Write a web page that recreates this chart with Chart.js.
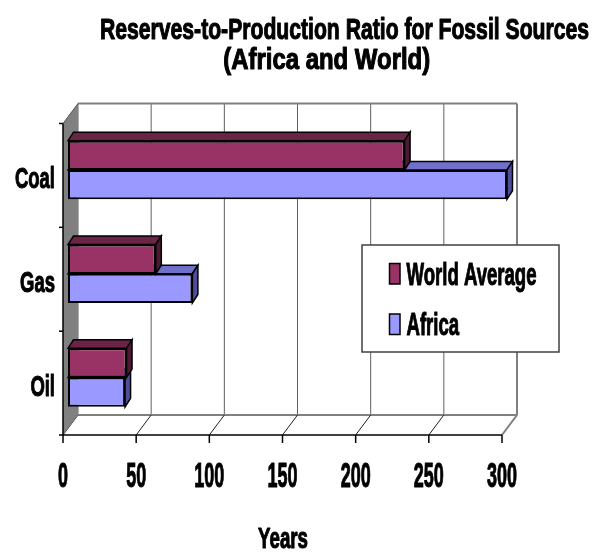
<!DOCTYPE html>
<html>
<head>
<meta charset="utf-8">
<script src="https://cdn.jsdelivr.net/npm/chart.js@4.4.1/dist/chart.umd.min.js"></script>
<style>
  html, body { margin: 0; padding: 0; background: #fff; }
</style>
</head>
<body>
<canvas id="rpChart" width="595" height="553"></canvas>
<script>
var fuels = ['Coal', 'Gas', 'Oil'];
var worldAverage = [230, 60, 40];
var africa = [300, 85, 39];
var yearTicks = [0, 50, 100, 150, 200, 250, 300];
var titleLines = ['Reserves-to-Production Ratio for Fossil Sources', '(Africa and World)'];
var axisTitle = 'Years';
var seriesNames = ['World Average', 'Africa'];

// faux 3d offsets relative to the plane the bars sit on
var FRONT = { dx: -5, dy: 5.5 };
var BACK = { dx: 10, dy: -14.5 };
var DEPTH = { dx: 5.5, dy: -8.5 };

var faceColors = [
  { front: '#993366', top: '#6B2346', side: '#4D1A33' },
  { front: '#9999FF', top: '#7070CC', side: '#4D4D99' }
];

var FONT = '"Liberation Sans", Arial, sans-serif';

function setFont(ctx, size) {
  ctx.font = 'bold ' + size + 'px ' + FONT;
}

// squeeze factor so that str comes out `width` px wide
function squeeze(ctx, str, size, width) {
  setFont(ctx, size);
  return width / ctx.measureText(str).width;
}

// condensed heavy text: squeezed horizontally, with a thin outline to thicken strokes
function narrowText(ctx, str, x, y, size, sx, align) {
  ctx.save();
  setFont(ctx, size);
  ctx.fillStyle = '#000';
  ctx.strokeStyle = '#000';
  ctx.lineWidth = 1.1;
  ctx.lineJoin = 'round';
  ctx.textAlign = align || 'center';
  ctx.textBaseline = 'alphabetic';
  ctx.translate(x, y);
  ctx.scale(sx, 1);
  ctx.fillText(str, 0, 0);
  ctx.strokeText(str, 0, 0);
  ctx.restore();
}

function quad(ctx, pts, fill, stroke, lw) {
  ctx.beginPath();
  ctx.moveTo(pts[0][0], pts[0][1]);
  for (var i = 1; i < pts.length; i++) ctx.lineTo(pts[i][0], pts[i][1]);
  ctx.closePath();
  if (fill) { ctx.fillStyle = fill; ctx.fill(); }
  if (stroke) { ctx.strokeStyle = stroke; ctx.lineWidth = lw || 1; ctx.stroke(); }
}

function line(ctx, x1, y1, x2, y2, color, lw) {
  ctx.beginPath();
  ctx.moveTo(x1, y1);
  ctx.lineTo(x2, y2);
  ctx.strokeStyle = color;
  ctx.lineWidth = lw || 1;
  ctx.stroke();
}

var walls3d = {
  id: 'walls3d',
  beforeDatasetsDraw: function (chart) {
    var ctx = chart.ctx;
    var a = chart.chartArea;
    var xs = chart.scales.x;
    var fl = a.left + FRONT.dx, fr = a.right + FRONT.dx;
    var ft = a.top + FRONT.dy, fb = a.bottom + FRONT.dy;
    var bl = a.left + BACK.dx, br = a.right + BACK.dx;
    var bt = a.top + BACK.dy, bb = a.bottom + BACK.dy;

    ctx.save();
    // back wall with gridlines
    ctx.fillStyle = '#fff';
    ctx.fillRect(bl, bt, br - bl, bb - bt);
    yearTicks.forEach(function (v) {
      var px = xs.getPixelForValue(v) + BACK.dx;
      line(ctx, px, bt, px, bb, v === 300 ? '#808080' : '#606060', v === 300 ? 2 : 1);
    });
    line(ctx, bl, bt, br, bt, '#808080', 2);

    // floor
    quad(ctx, [[fl, fb], [fr, fb], [br, bb], [bl, bb]], '#fff');
    line(ctx, bl, bb, br, bb, '#808080', 2);
    yearTicks.forEach(function (v) {
      var p = xs.getPixelForValue(v);
      line(ctx, p + FRONT.dx, fb, p + BACK.dx, bb, v === 300 ? '#808080' : '#202020', v === 300 ? 2 : 1);
    });

    // left side wall
    quad(ctx, [[fl, ft], [bl, bt], [bl, bb], [fl, fb]], '#808080');
    line(ctx, fl, ft, bl, bt, '#505050', 1);

    // axis lines and tick marks
    line(ctx, fl, ft, fl, fb + 0.5, '#000', 1.5);
    line(ctx, fl, fb, fr, fb, '#000', 1.5);
    yearTicks.forEach(function (v) {
      var px = xs.getPixelForValue(v) + FRONT.dx;
      line(ctx, px, fb, px, fb + 8, '#000', 1.5);
    });
    var band = (fb - ft) / fuels.length;
    for (var i = 0; i <= fuels.length; i++) {
      line(ctx, fl - 4, ft + i * band, fl, ft + i * band, '#000', 1.5);
    }

    // top and side faces of the bars, lower series first
    for (var d = chart.data.datasets.length - 1; d >= 0; d--) {
      var meta = chart.getDatasetMeta(d);
      meta.data.forEach(function (bar) {
        var p = bar.getProps(['x', 'y', 'base', 'height'], true);
        var L = p.base, R = p.x, T = p.y - p.height / 2, B = p.y + p.height / 2;
        quad(ctx, [[L, T], [R, T], [R + DEPTH.dx, T + DEPTH.dy], [L + DEPTH.dx, T + DEPTH.dy]],
          faceColors[d].top, '#000', 1.5);
        quad(ctx, [[R, T], [R + DEPTH.dx, T + DEPTH.dy], [R + DEPTH.dx, B + DEPTH.dy], [R, B]],
          faceColors[d].side, '#000', 1.5);
      });
    }
    ctx.restore();
  },
  afterDraw: function (chart) {
    var ctx = chart.ctx;
    var xs = chart.scales.x, ys = chart.scales.y;

    // title
    narrowText(ctx, titleLines[0], 344.5, 38.5, 29, squeeze(ctx, titleLines[0], 29, 489));
    narrowText(ctx, titleLines[1], 326.7, 68.5, 29, squeeze(ctx, titleLines[1], 29, 207));

    // category labels
    var sxCat = squeeze(ctx, 'Coal', 30, 40);
    fuels.forEach(function (f, i) {
      narrowText(ctx, f, 55, ys.getPixelForValue(i) + 18, 30, sxCat, 'right');
    });

    // value ticks on the front edge
    var sxTick = squeeze(ctx, '100', 35, 30);
    yearTicks.forEach(function (v) {
      narrowText(ctx, String(v), xs.getPixelForValue(v) + FRONT.dx, 486.5, 35, sxTick);
    });

    narrowText(ctx, axisTitle, 283, 548, 30, squeeze(ctx, axisTitle, 30, 50));

    // legend
    ctx.save();
    ctx.fillStyle = '#fff';
    ctx.fillRect(362, 245, 197, 107);
    ctx.strokeStyle = '#404040';
    ctx.lineWidth = 1.5;
    ctx.strokeRect(362, 245, 197, 107);
    var sxLeg = squeeze(ctx, seriesNames[0], 32, 130);
    var rows = [284.5, 335];
    seriesNames.forEach(function (name, i) {
      ctx.fillStyle = faceColors[i].front;
      ctx.fillRect(389.5, rows[i] - 21, 10.5, 20.5);
      ctx.strokeStyle = '#000';
      ctx.lineWidth = 1.5;
      ctx.strokeRect(389.5, rows[i] - 21, 10.5, 20.5);
      narrowText(ctx, name, 406.5, rows[i], 32, sxLeg, 'left');
    });
    ctx.restore();
  }
};

new Chart(document.getElementById('rpChart'), {
  type: 'bar',
  data: {
    labels: fuels,
    datasets: [{
      label: seriesNames[0],
      data: worldAverage,
      backgroundColor: faceColors[0].front,
      borderColor: '#000',
      borderWidth: 2,
      borderSkipped: false
    }, {
      label: seriesNames[1],
      data: africa,
      backgroundColor: faceColors[1].front,
      borderColor: '#000',
      borderWidth: 2,
      borderSkipped: false
    }]
  },
  options: {
    indexAxis: 'y',
    responsive: false,
    animation: false,
    layout: { padding: { left: 68, right: 88, top: 118, bottom: 123.5 } },
    datasets: { bar: { categoryPercentage: 0.564, barPercentage: 1 } },
    scales: {
      x: { type: 'linear', min: 0, max: 300, display: false },
      y: { display: false }
    },
    plugins: {
      legend: { display: false },
      title: { display: false },
      tooltip: { enabled: false }
    }
  },
  plugins: [walls3d]
});
</script>
</body>
</html>
